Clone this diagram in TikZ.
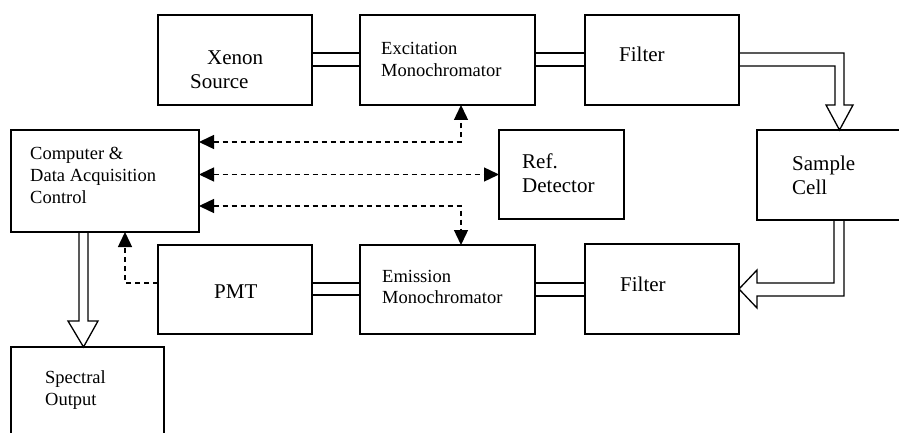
\documentclass[tikz,border=0pt]{standalone}
\usepackage{fontspec}
\setmainfont{Liberation Serif}
\usetikzlibrary{arrows.meta,calc}
\tikzset{
  box/.style={draw=black, line width=1.3pt, anchor=north west, inner sep=0pt, outer sep=0pt},
  big/.style={anchor=base west, inner sep=0pt, font=\fontsize{21}{24}\selectfont},
  small/.style={anchor=base west, inner sep=0pt, font=\fontsize{18.5}{22}\selectfont},
  beam/.style={line width=1.3pt, black},
  ctrl/.style={line width=1.4pt, black, dash pattern=on 5pt off 4pt},
  tip/.tip={Triangle[length=15pt,width=14pt]}
}
\begin{document}
\begin{tikzpicture}[x=1pt,y=-1pt]
\clip (0,0) rectangle (899,433);
\fill[white] (0,0) rectangle (899,433);
% boxes
\node[box, minimum width=154pt, minimum height=90pt] (xen) at (158,15) {};
\node[box, minimum width=175pt, minimum height=90pt] (exc) at (360,15) {};
\node[box, minimum width=154pt, minimum height=90pt] (fil1) at (585,15) {};
\node[box, minimum width=188pt, minimum height=102pt] (comp) at (11,130) {};
\node[box, minimum width=125pt, minimum height=89pt] (ref) at (499,130) {};
\node[box, minimum width=160pt, minimum height=90pt] (samp) at (757,130) {};
\node[box, minimum width=154pt, minimum height=89pt] (pmt) at (158,245) {};
\node[box, minimum width=175pt, minimum height=89pt] (emi) at (360,245) {};
\node[box, minimum width=154pt, minimum height=90pt] (fil2) at (585,244) {};
\node[box, minimum width=153pt, minimum height=100pt] (spec) at (11,347) {};
% texts
\node[big] (t1) at (207,65) {Xenon};
\node[big] (t2) at (190,89) {Source};
\node[small] (t3) at (381,55) {Excitation};
\node[small] (t4) at (381,77) {Monochromator};
\node[big] (t5) at (619,62) {Filter};
\node[big] (t6) at (792,170) {Sample};
\node[big] (t7) at (792,194) {Cell};
\node[big] (t8) at (522,168) {Ref.};
\node[big] (t9) at (522,192) {Detector};
\node[small] (t10) at (30,159) {Computer \&};
\node[small] (t11) at (30,181) {Data Acquisition};
\node[small] (t12) at (30,203) {Control};
\node[big] (t13) at (214,298) {PMT};
\node[small] (t14) at (382,282) {Emission};
\node[small] (t15) at (382,303) {Monochromator};
\node[big] (t16) at (620,291) {Filter};
\node[small] (t17) at (45,383) {Spectral};
\node[small] (t18) at (45,405) {Output};
% optical double lines
\draw[beam] ($(xen.north east)+(0,38)$) -- ($(exc.north west)+(0,38)$);
\draw[beam] ($(xen.north east)+(0,51)$) -- ($(exc.north west)+(0,51)$);
\draw[beam] ($(exc.north east)+(0,38)$) -- ($(fil1.north west)+(0,38)$);
\draw[beam] ($(exc.north east)+(0,51)$) -- ($(fil1.north west)+(0,51)$);
\draw[beam] ($(pmt.north east)+(0,38)$) -- ($(emi.north west)+(0,38)$);
\draw[beam] ($(pmt.north east)+(0,50)$) -- ($(emi.north west)+(0,50)$);
\draw[beam] ($(emi.north east)+(0,38)$) -- ($(fil2.north west)+(0,39)$);
\draw[beam] ($(emi.north east)+(0,51)$) -- ($(fil2.north west)+(0,52)$);
% hollow arrow filter -> sample cell
\draw[beam, line join=miter] ($(fil1.north east)+(0,38)$) -- (844,53) -- (844,105) -- (853,105)
  -- ($(samp.north west)+(82.5,0)$) -- (826,105) -- (835,105) -- (835,66) -- ($(fil1.north east)+(0,51)$);
% hollow arrow sample cell -> filter
\draw[beam, line join=miter] ($(samp.south west)+(77,0)$) -- (834,283) -- (757,283) -- (757,270)
  -- ($(fil2.north east)+(0,45)$) -- (757,308) -- (757,296) -- (844,296) -- ($(samp.south west)+(87,0)$);
% hollow arrow computer -> spectral output
\draw[beam, line join=miter] ($(comp.south west)+(68,0)$) -- (79,321) -- (68,321)
  -- ($(spec.north west)+(72.5,0)$) -- (98,321) -- (88,321) -- ($(comp.south west)+(77,0)$);
% control lines
\draw[ctrl, {tip}-{tip}] ($(comp.north east)+(0,12)$) -| ($(exc.south west)+(101,0)$);
\draw[ctrl, {tip}-{tip}] (comp.east |- ref.west) -- (ref.west);
\draw[ctrl, {tip}-{tip}] ($(comp.north east)+(0,76)$) -| ($(emi.north west)+(101,0)$);
\draw[ctrl, -{tip}] ($(pmt.north west)+(0,38)$) -| ($(comp.south west)+(114,0)$);
\end{tikzpicture}
\end{document}
